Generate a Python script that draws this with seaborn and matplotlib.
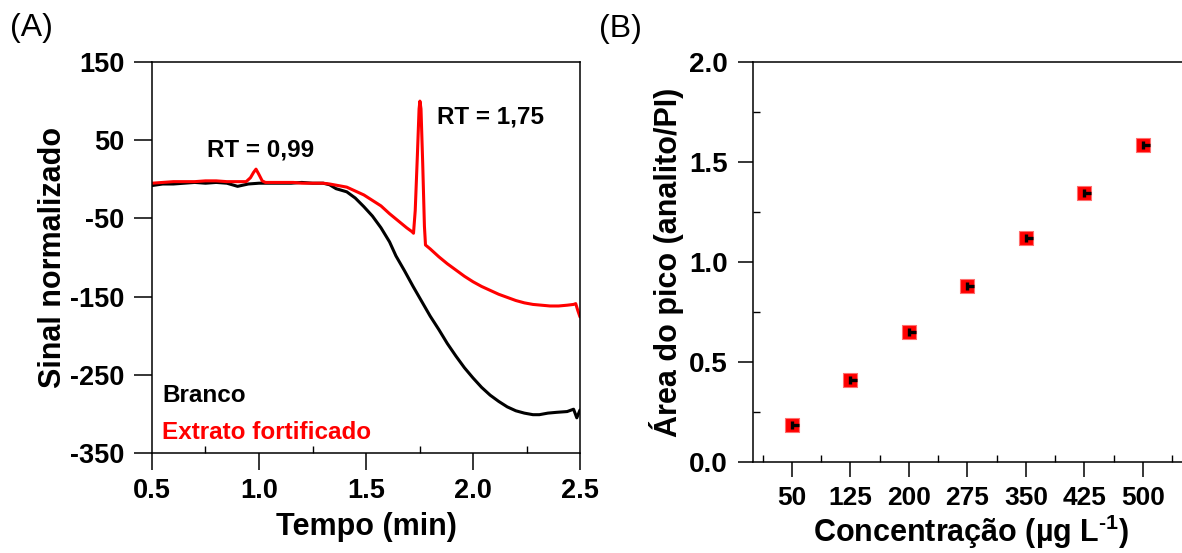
import numpy as np
import pandas as pd
import matplotlib
matplotlib.use("Agg")
import matplotlib.pyplot as plt
from matplotlib.ticker import MultipleLocator, FixedLocator
import seaborn as sns

# ---------------- data ----------------
# Panel A: chromatogram traces
t_branco = [0.50, 0.55, 0.60, 0.65, 0.70, 0.75, 0.80, 0.85, 0.90, 0.95, 1.00, 1.05,
            1.10, 1.15, 1.20, 1.25, 1.30, 1.33, 1.36, 1.41, 1.45, 1.49, 1.53, 1.57,
            1.61, 1.64, 1.68, 1.72, 1.76, 1.80, 1.84, 1.88, 1.92, 1.96, 2.00, 2.04,
            2.08, 2.12, 2.16, 2.20, 2.24, 2.28, 2.31, 2.35, 2.39, 2.44, 2.47, 2.485, 2.50]
v_branco = [-8, -6, -6, -5, -4, -5, -4, -5, -9, -6, -5, -5,
            -5, -5, -4, -5, -5, -7, -12, -16, -24, -35, -47, -62,
            -80, -98, -117, -137, -156, -175, -192, -210, -226, -241, -254, -266,
            -276, -284, -291, -296, -299, -301, -301, -299, -298, -297, -294, -305, -295]

t_extrato = [0.50, 0.55, 0.60, 0.65, 0.70, 0.75, 0.80, 0.85, 0.90, 0.94, 0.96, 0.975,
             0.986, 1.00, 1.015, 1.03, 1.08, 1.12, 1.16, 1.20, 1.25, 1.30, 1.33, 1.37,
             1.41, 1.45, 1.49, 1.53, 1.57, 1.61, 1.65, 1.69, 1.715, 1.722, 1.730, 1.740,
             1.748, 1.752, 1.757, 1.765, 1.773, 1.778, 1.80, 1.84, 1.88, 1.92, 1.96, 2.00,
             2.04, 2.08, 2.12, 2.16, 2.20, 2.24, 2.28, 2.32, 2.36, 2.40, 2.44, 2.47,
             2.48, 2.49, 2.50]
v_extrato = [-5, -4, -3, -3, -3, -2, -2, -3, -3, -3, 2, 9,
             13, 6, -2, -4, -4, -4, -4, -5, -5, -5, -6, -8,
             -10, -15, -20, -27, -34, -44, -53, -62, -67, -69, -40, 30,
             90, 100, 90, 20, -60, -84, -89, -99, -108, -116, -124, -131,
             -137, -142, -147, -151, -155, -158, -160, -161, -162, -162, -161, -160,
             -159, -168, -176]

# Panel B: calibration points
concentracao = [50, 125, 200, 275, 350, 425, 500]
area_pico = [0.184, 0.410, 0.649, 0.880, 1.118, 1.343, 1.583]
erro_y = [0.02, 0.02, 0.02, 0.02, 0.02, 0.02, 0.02]
erro_x = [9, 9, 9, 9, 9, 9, 9]
x_ticklabels = ["50", "125", "200", "275", "350", "425", "500"]

# ---------------- style ----------------
sns.set_theme(style="ticks")
plt.rcParams["font.family"] = ["Liberation Sans", "DejaVu Sans"]
plt.rcParams["font.weight"] = "bold"
plt.rcParams["axes.unicode_minus"] = False
plt.rcParams["mathtext.fontset"] = "custom"
plt.rcParams["mathtext.rm"] = "Liberation Sans:bold"
plt.rcParams["mathtext.it"] = "Liberation Sans:bold"
plt.rcParams["mathtext.bf"] = "Liberation Sans:bold"
plt.rcParams["mathtext.default"] = "rm"

fig = plt.figure(figsize=(11.82, 5.53), dpi=100)
fig.patch.set_facecolor("white")

axA = fig.add_axes([152/1182, 1-453/553, 428/1182, 391/553])
axB = fig.add_axes([753/1182, 1-462/553, 432/1182, 400/553])

for ax in (axA, axB):
    ax.set_facecolor("white")
    for s in ax.spines.values():
        s.set_linewidth(1.1)
        s.set_color("black")

# ---------------- Panel A ----------------
dfb = pd.DataFrame({"t": t_branco, "v": v_branco})
dfe = pd.DataFrame({"t": t_extrato, "v": v_extrato})
sns.lineplot(data=dfb, x="t", y="v", ax=axA, color="black", lw=2.2,
             estimator=None, sort=False, legend=False)
sns.lineplot(data=dfe, x="t", y="v", ax=axA, color="#ff0000", lw=2.2,
             estimator=None, sort=False, legend=False)

axA.set_xlim(0.5, 2.5)
axA.set_ylim(-350, 150)
axA.xaxis.set_minor_locator(MultipleLocator(0.25))
axA.set_xticks([0.5, 1.0, 1.5, 2.0, 2.5])
axA.set_yticks([-350, -250, -150, -50, 50, 150])
axA.tick_params(axis="both", which="major", direction="out", length=12, width=1.1,
                labelsize=19.5, color="black", labelcolor="black")
axA.tick_params(axis="y", which="major", length=13, pad=7)
axA.tick_params(axis="x", which="major", pad=6)
axA.tick_params(axis="x", which="minor", direction="in", length=5, width=1.0, color="black")
for lab in axA.get_xticklabels() + axA.get_yticklabels():
    lab.set_fontweight("bold")

axA.set_xlabel("Tempo (min)", fontsize=22, fontweight="bold", color="black")
axA.set_ylabel("Sinal normalizado", fontsize=22, fontweight="bold", color="black")
axA.xaxis.set_label_coords(0.501, -0.19)
axA.xaxis.label.set_va("center")
axA.yaxis.set_label_coords(-0.231, 0.5)
axA.yaxis.label.set_va("center")

axA.text(1.009, 37, "RT = 0,99", fontsize=17.5, fontweight="bold", color="black",
         ha="center", va="center")
axA.text(1.832, 80, "RT = 1,75", fontsize=17.5, fontweight="bold", color="black",
         ha="left", va="center")
axA.text(0.55, -277, "Branco", fontsize=17.5, fontweight="bold", color="black",
         ha="left", va="center")
axA.text(0.547, -324, "Extrato fortificado", fontsize=17.5, fontweight="bold",
         color="#ff0000", ha="left", va="center")

# ---------------- Panel B ----------------
dfc = pd.DataFrame({"conc": concentracao, "area": area_pico})
sns.scatterplot(data=dfc, x="conc", y="area", ax=axB, marker="s", s=105,
                color="#ff0000", edgecolor="#ff7070", linewidth=0.8, zorder=3,
                legend=False)
axB.errorbar(concentracao, area_pico, yerr=erro_y,
             xerr=[np.zeros(len(erro_x)), erro_x], fmt="none", ecolor="black",
             elinewidth=2.4, capsize=0, zorder=4)

axB.set_xlim(0, 554)
axB.set_ylim(0, 2.0)
axB.spines["right"].set_visible(False)
axB.set_xticks(concentracao)
axB.set_xticklabels(x_ticklabels)
axB.xaxis.set_minor_locator(FixedLocator([12.5 + 75*i for i in range(8)]))
axB.yaxis.set_major_locator(MultipleLocator(0.5))
axB.yaxis.set_minor_locator(MultipleLocator(0.25))
axB.yaxis.set_major_formatter(matplotlib.ticker.FormatStrFormatter("%.1f"))
axB.tick_params(axis="both", which="major", direction="out", length=11, width=1.1,
                labelsize=20, color="black", labelcolor="black")
axB.tick_params(axis="x", which="major", labelsize=19, pad=6)
axB.tick_params(axis="y", which="major", pad=7)
axB.tick_params(axis="both", which="minor", direction="in", length=5, width=1.0,
                color="black")
for lab in axB.get_xticklabels() + axB.get_yticklabels():
    lab.set_fontweight("bold")

axB.set_xlabel(r"Concentração (µg L$^{\text{-}1}$)", fontsize=22, fontweight="bold",
               color="black")
axB.set_ylabel("Área do pico (analito/PI)", fontsize=22, fontweight="bold", color="black")
axB.xaxis.set_label_coords(0.505, -0.175)
axB.xaxis.label.set_va("center")
axB.yaxis.set_label_coords(-0.2, 0.5)
axB.yaxis.label.set_va("center")

# panel letters
fig.text(10/1182, 1-28/553, "(A)", fontsize=23, fontweight="normal", color="black",
         ha="left", va="center")
fig.text(599/1182, 1-29/553, "(B)", fontsize=23, fontweight="normal", color="black",
         ha="left", va="center")

fig.savefig("out.png", dpi=100, facecolor="white")
